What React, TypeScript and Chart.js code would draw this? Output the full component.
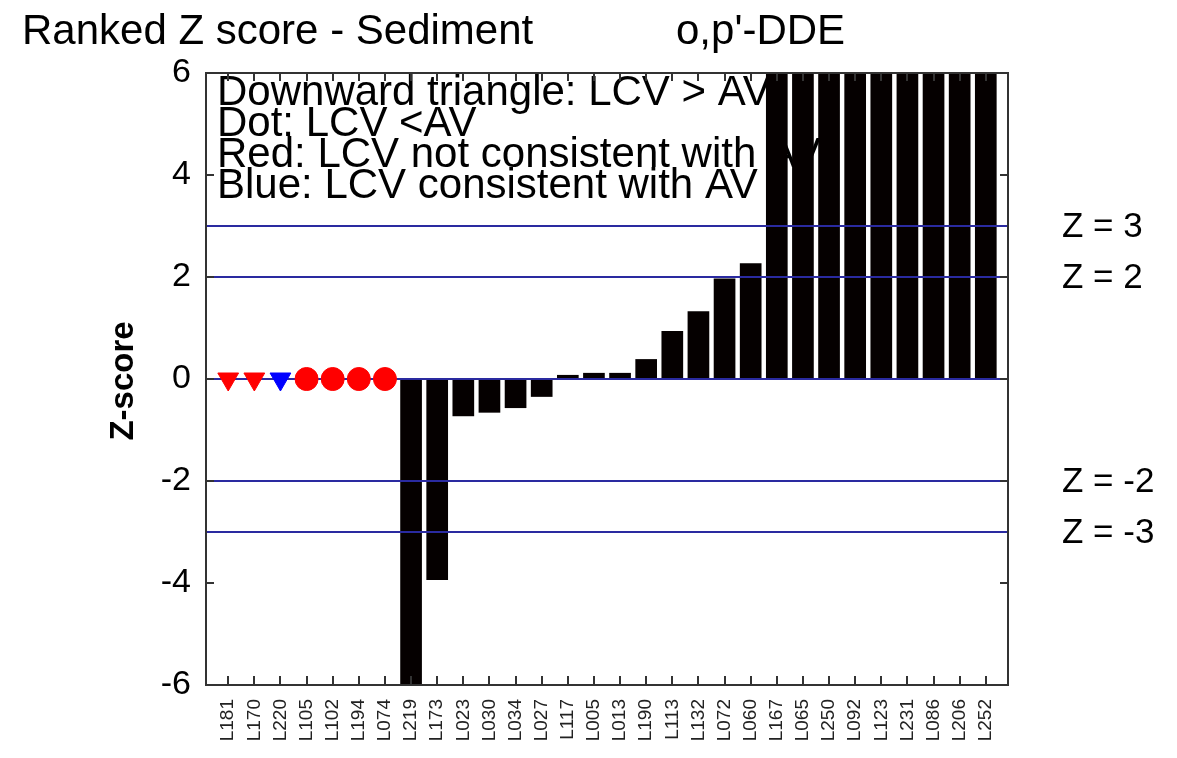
import React, { useEffect, useRef } from "react";
import { Chart, registerables } from "chart.js";

Chart.register(...registerables);

const FONT = "'Liberation Sans', Arial, Helvetica, sans-serif";

const categories = [
  "L181", "L170", "L220", "L105", "L102", "L194", "L074", "L219", "L173", "L023",
  "L030", "L034", "L027", "L117", "L005", "L013", "L190", "L113", "L132", "L072",
  "L060", "L167", "L065", "L250", "L092", "L123", "L231", "L086", "L206", "L252",
];

// Ranked z-scores (null = lab shown as a marker instead of a bar)
const zScores: (number | null)[] = [
  null, null, null, null, null, null, null, -6.8, -3.94, -0.73,
  -0.66, -0.57, -0.35, 0.08, 0.12, 0.12, 0.39, 0.94, 1.33, 1.97,
  2.27, 6.6, 7.3, 8.2, 9.1, 10.5, 12.4, 15.2, 19.9, 26.4,
];

// Marker labs (first seven categories)
const markerValues = [0, 0, 0, 0, 0, 0, 0];
const markerShapes = ["triangle", "triangle", "triangle", "circle", "circle", "circle", "circle"];
const markerRotations = [180, 180, 180, 0, 0, 0, 0];
const markerColors = ["#ff0000", "#ff0000", "#0000ff", "#ff0000", "#ff0000", "#ff0000", "#ff0000"];
const markerRadii = [12, 12, 12, 11.5, 11.5, 11.5, 11.5];

const zLines = [3, 2, 0, -2, -3];
const zLabelValues = [3, 2, -2, -3];
const yTicks = [-6, -4, -2, 0, 2, 4, 6];

const legendLines = [
  "Downward triangle: LCV > AV",
  "Dot: LCV <AV",
  "Red: LCV not consistent with AV",
  "Blue: LCV consistent with AV",
];
const titleLeft = "Ranked Z score - Sediment";
const titleRight = "o,p'-DDE";
const yTitle = "Z-score";

const decor = {
  id: "decor",
  beforeDatasetsDraw(chart: any) {
    const { ctx, chartArea } = chart;
    ctx.save();
    ctx.fillStyle = "#000";
    ctx.font = `42px ${FONT}`;
    ctx.textAlign = "left";
    ctx.textBaseline = "alphabetic";
    legendLines.forEach((t, i) => {
      ctx.fillText(t, chartArea.left + 11, chartArea.top + 32 + i * 31);
    });
    ctx.restore();
  },
  afterDatasetDraw(chart: any, args: any) {
    if (args.index !== 1) return;
    const { ctx, chartArea } = chart;
    const y = chart.scales.y;
    ctx.save();
    ctx.strokeStyle = "#2a2aa0";
    ctx.lineWidth = 2;
    zLines.forEach((v) => {
      const py = Math.round(y.getPixelForValue(v));
      ctx.beginPath();
      ctx.moveTo(chartArea.left, py);
      ctx.lineTo(chartArea.right, py);
      ctx.stroke();
    });
    ctx.restore();
  },
  afterDraw(chart: any) {
    const { ctx, chartArea } = chart;
    const x = chart.scales.x;
    const y = chart.scales.y;
    ctx.save();
    // frame
    ctx.strokeStyle = "#333";
    ctx.lineWidth = 2;
    ctx.strokeRect(chartArea.left, chartArea.top, chartArea.right - chartArea.left, chartArea.bottom - chartArea.top);
    // inward ticks
    ctx.beginPath();
    yTicks.forEach((v) => {
      const py = Math.round(y.getPixelForValue(v));
      ctx.moveTo(chartArea.left, py);
      ctx.lineTo(chartArea.left + 8, py);
      ctx.moveTo(chartArea.right, py);
      ctx.lineTo(chartArea.right - 8, py);
    });
    categories.forEach((_, i) => {
      const px = Math.round(x.getPixelForValue(i));
      ctx.moveTo(px, chartArea.bottom);
      ctx.lineTo(px, chartArea.bottom - 9);
      ctx.moveTo(px, chartArea.top);
      ctx.lineTo(px, chartArea.top + 8);
    });
    ctx.stroke();

    // title
    ctx.fillStyle = "#000";
    ctx.font = `42px ${FONT}`;
    ctx.textAlign = "left";
    ctx.textBaseline = "alphabetic";
    ctx.fillText(titleLeft, 22, 44);
    ctx.fillText(titleRight, 676, 44);

    // Z labels at right
    ctx.font = `35px ${FONT}`;
    ctx.textBaseline = "middle";
    zLabelValues.forEach((v) => {
      ctx.fillText(`Z = ${v}`, chartArea.right + 54, y.getPixelForValue(v) + 1);
    });

    // y axis title
    ctx.font = `bold 33px ${FONT}`;
    ctx.textAlign = "center";
    ctx.textBaseline = "middle";
    ctx.translate(124, (chartArea.top + chartArea.bottom) / 2 + 2);
    ctx.rotate(-Math.PI / 2);
    ctx.fillText(yTitle, 0, 0);
    ctx.restore();
  },
};

export default function App() {
  const canvasRef = useRef<HTMLCanvasElement | null>(null);

  useEffect(() => {
    document.body.style.margin = "0";
    const canvas = canvasRef.current;
    if (!canvas) return;

    const barData = categories
      .map((_, i) => ({ x: i, y: zScores[i] }))
      .filter((d) => d.y !== null);
    const markerData = markerValues.map((v, i) => ({ x: i, y: v }));

    const chart = new Chart(canvas, {
      type: "bar",
      data: {
        datasets: [
          {
            type: "line",
            data: markerData,
            showLine: false,
            pointStyle: markerShapes as any,
            pointRotation: markerRotations,
            pointRadius: markerRadii,
            pointBackgroundColor: markerColors,
            pointBorderColor: markerColors,
            pointBorderWidth: 1,
          } as any,
          {
            type: "bar",
            data: barData as any,
            backgroundColor: "#050000",
            borderWidth: 0,
            barPercentage: 0.83,
            categoryPercentage: 1,
          } as any,
        ],
      },
      options: {
        responsive: false,
        animation: false,
        devicePixelRatio: 1,
        layout: { padding: { top: 73, right: 169, bottom: 0, left: 0 } },
        plugins: {
          legend: { display: false },
          tooltip: { enabled: false },
          title: { display: false },
        },
        scales: {
          x: {
            type: "linear",
            offset: false,
            min: -0.85,
            max: 29.85,
            afterBuildTicks: (s: any) => {
              s.ticks = categories.map((_, i) => ({ value: i }));
            },
            afterFit: (s: any) => {
              s.height = 73;
            },
            grid: { display: false, drawTicks: false, offset: false },
            border: { display: false },
            ticks: {
              autoSkip: false,
              minRotation: 90,
              maxRotation: 90,
              padding: 14,
              color: "#222",
              font: { family: FONT, size: 19 },
              callback: (v: any) => categories[v] ?? "",
            },
          },
          y: {
            type: "linear",
            min: -6,
            max: 6,
            afterBuildTicks: (s: any) => {
              s.ticks = yTicks.map((v) => ({ value: v }));
            },
            afterFit: (s: any) => {
              s.width = 206;
            },
            grid: { display: false, drawTicks: false },
            border: { display: false },
            ticks: {
              padding: 15,
              color: "#000",
              font: { family: FONT, size: 34 },
            },
          },
        },
      } as any,
      plugins: [decor],
    });

    return () => chart.destroy();
  }, []);

  return (
    <canvas
      ref={canvasRef}
      width={1177}
      height={758}
      style={{ display: "block", width: 1177, height: 758 }}
    />
  );
}
